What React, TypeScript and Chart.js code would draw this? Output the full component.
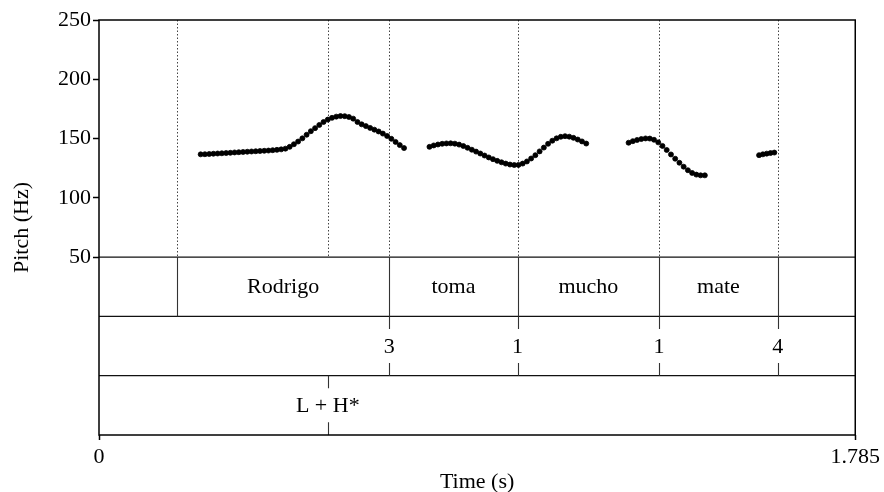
import React, { useEffect, useRef } from 'react';
import { Chart, registerables } from 'chart.js';
Chart.register(...registerables);

const FONT = '"Liberation Serif", "Times New Roman", Times, serif';

// Pitch contour segments (time in s, pitch in Hz)
const seg1Times = [0.24, 0.25, 0.26, 0.27, 0.28, 0.29, 0.30, 0.31, 0.32, 0.33, 0.34, 0.35, 0.36, 0.37, 0.38, 0.39, 0.40, 0.41, 0.42, 0.43, 0.44, 0.45, 0.46, 0.47, 0.48, 0.49, 0.50, 0.51, 0.52, 0.53, 0.54, 0.55, 0.56, 0.57, 0.58, 0.59, 0.60, 0.61, 0.62, 0.63, 0.64, 0.65, 0.66, 0.67, 0.68, 0.69, 0.70, 0.71, 0.72];
const seg1Pitch = [136.7, 136.8, 137.0, 137.2, 137.4, 137.6, 137.8, 138.0, 138.3, 138.5, 138.7, 138.9, 139.1, 139.3, 139.5, 139.7, 139.9, 140.2, 140.5, 140.9, 141.5, 143.0, 145.2, 147.5, 150.2, 153.2, 156.2, 158.8, 161.5, 164.0, 166.0, 167.5, 168.5, 169.0, 168.9, 168.2, 166.8, 164.0, 162.0, 160.5, 159.0, 157.5, 156.0, 154.2, 152.2, 149.8, 147.2, 144.5, 142.0];

const seg2Times = [0.78, 0.79, 0.80, 0.81, 0.82, 0.83, 0.84, 0.85, 0.86, 0.87, 0.88, 0.89, 0.90, 0.91, 0.92, 0.93, 0.94, 0.95, 0.96, 0.97, 0.98, 0.99, 1.00, 1.01, 1.02, 1.03, 1.04, 1.05, 1.06, 1.07, 1.08, 1.09, 1.10, 1.11, 1.12, 1.13, 1.14, 1.15];
const seg2Pitch = [143.0, 144.2, 145.0, 145.6, 145.9, 146.0, 145.7, 144.9, 143.7, 142.2, 140.6, 139.0, 137.4, 135.7, 134.1, 132.6, 131.2, 130.0, 128.9, 128.1, 127.7, 127.8, 128.9, 130.7, 133.2, 136.0, 139.2, 142.4, 145.6, 148.2, 150.2, 151.5, 152.0, 151.6, 150.6, 149.2, 147.6, 145.8];

const seg3Times = [1.25, 1.26, 1.27, 1.28, 1.29, 1.30, 1.31, 1.32, 1.33, 1.34, 1.35, 1.36, 1.37, 1.38, 1.39, 1.40, 1.41, 1.42, 1.43];
const seg3Pitch = [146.5, 147.8, 148.8, 149.6, 150.1, 150.0, 149.0, 146.8, 143.8, 140.4, 136.6, 133.0, 129.6, 126.3, 123.3, 121.0, 119.6, 119.0, 119.0];

const seg4Times = [1.558, 1.567, 1.576, 1.585, 1.594];
const seg4Pitch = [136.0, 136.7, 137.3, 137.8, 138.2];

// Axis ticks
const yTickValues = [50, 100, 150, 200, 250];
const xTickValues = [0, 1.785];
const xTickLabels = ['0', '1.785'];

// TextGrid
const pitchMarkTimes = [0.184, 0.540, 0.685, 0.988, 1.322, 1.602];
const wordBounds = [0.184, 0.685, 0.988, 1.322, 1.602];
const words = ['Rodrigo', 'toma', 'mucho', 'mate'];
const breakTimes = [0.685, 0.988, 1.322, 1.602];
const breakLabels = ['3', '1', '1', '4'];
const toneTimes = [0.540];
const toneLabels = ['L + H*'];

const pts = (ts: number[], ps: number[]) => ts.map((t, i) => ({ x: t, y: ps[i] }));

const tierPlugin = {
  id: 'tiers',
  beforeDatasetsDraw(chart: any) {
    const { ctx, scales } = chart;
    const x = scales.x, y = scales.y;
    const yTop = y.getPixelForValue(250);
    const y50 = y.getPixelForValue(50);
    const y0 = y.getPixelForValue(0);
    const yM50 = y.getPixelForValue(-50);
    const yBot = y.getPixelForValue(-100);
    const left = chart.chartArea.left, right = chart.chartArea.right;
    ctx.save();
    ctx.strokeStyle = '#444';
    ctx.lineWidth = 1;
    ctx.setLineDash([1.5, 2]);
    pitchMarkTimes.forEach((t) => {
      const px = Math.round(x.getPixelForValue(t)) + 0.5;
      ctx.beginPath();
      ctx.moveTo(px, yTop);
      ctx.lineTo(px, y50);
      ctx.stroke();
    });
    ctx.setLineDash([]);
    ctx.strokeStyle = '#111';
    ctx.lineWidth = 1.3;
    [y50, y0, yM50].forEach((yy) => {
      ctx.beginPath();
      ctx.moveTo(left, yy);
      ctx.lineTo(right, yy);
      ctx.stroke();
    });
    ctx.strokeStyle = '#333';
    ctx.lineWidth = 1.1;
    wordBounds.forEach((t) => {
      const px = Math.round(x.getPixelForValue(t)) + 0.5;
      ctx.beginPath();
      ctx.moveTo(px, y50);
      ctx.lineTo(px, y0);
      ctx.stroke();
    });
    ctx.fillStyle = '#000';
    ctx.font = '22px ' + FONT;
    ctx.textAlign = 'center';
    ctx.textBaseline = 'alphabetic';
    const c1 = (y50 + y0) / 2;
    words.forEach((w, i) => {
      const mid = (x.getPixelForValue(wordBounds[i]) + x.getPixelForValue(wordBounds[i + 1])) / 2;
      ctx.fillText(w, mid, c1 + 6.5);
    });
    const pointTier = (times: number[], labels: string[], top: number, bot: number) => {
      const c = (top + bot) / 2;
      times.forEach((t, i) => {
        const px = Math.round(x.getPixelForValue(t)) + 0.5;
        ctx.beginPath();
        ctx.moveTo(px, top);
        ctx.lineTo(px, c - 17);
        ctx.moveTo(px, c + 17);
        ctx.lineTo(px, bot);
        ctx.stroke();
        ctx.fillText(labels[i], x.getPixelForValue(t), c + 7);
      });
    };
    pointTier(breakTimes, breakLabels, y0, yM50);
    pointTier(toneTimes, toneLabels, yM50, yBot);
    ctx.restore();
  },
  afterDraw(chart: any) {
    const { ctx, chartArea: a } = chart;
    ctx.save();
    ctx.strokeStyle = '#000';
    ctx.lineWidth = 1.5;
    ctx.strokeRect(a.left, a.top, a.right - a.left, a.bottom - a.top);
    ctx.restore();
  },
};

export default function App() {
  const ref = useRef<HTMLCanvasElement | null>(null);
  useEffect(() => {
    document.body.style.margin = '0';
    const canvas = ref.current;
    if (!canvas) return;
    const dsBase = {
      showLine: false,
      pointRadius: 2.5,
      pointBorderWidth: 0.8,
      pointBackgroundColor: '#000',
      pointBorderColor: '#000',
    };
    const chart = new Chart(canvas, {
      type: 'scatter',
      data: {
        datasets: [
          { ...dsBase, data: pts(seg1Times, seg1Pitch) },
          { ...dsBase, data: pts(seg2Times, seg2Pitch) },
          { ...dsBase, data: pts(seg3Times, seg3Pitch) },
          { ...dsBase, data: pts(seg4Times, seg4Pitch) },
        ],
      },
      options: {
        animation: false,
        responsive: false,
        layout: { padding: { top: 20, right: 27, left: 0, bottom: 0 } },
        plugins: { legend: { display: false }, tooltip: { enabled: false } },
        scales: {
          x: {
            type: 'linear',
            min: 0,
            max: 1.785,
            afterFit: (s: any) => { s.height = 57; },
            afterBuildTicks: (s: any) => { s.ticks = xTickValues.map((v) => ({ value: v })); },
            ticks: {
              callback: (_v: any, i: number) => xTickLabels[i],
              font: { family: FONT, size: 22 },
              color: '#000',
              padding: 4,
              maxRotation: 0,
              autoSkip: false,
            },
            grid: { drawOnChartArea: false, tickLength: 5, tickColor: '#000', tickWidth: 1.5 },
            border: { display: false },
            title: {
              display: true,
              text: 'Time (s)',
              color: '#000',
              font: { family: FONT, size: 22, lineHeight: 0.85 },
              padding: 0,
            },
          },
          y: {
            type: 'linear',
            min: -100,
            max: 250,
            afterFit: (s: any) => { s.width = 99; },
            afterBuildTicks: (s: any) => { s.ticks = yTickValues.map((v) => ({ value: v })); },
            ticks: {
              callback: (v: any) => String(v),
              font: { family: FONT, size: 22 },
              color: '#000',
              padding: 2,
              autoSkip: false,
            },
            grid: { drawOnChartArea: false, tickLength: 6, tickColor: '#000', tickWidth: 1.5 },
            border: { display: false },
            title: {
              display: true,
              text: 'Pitch (Hz)',
              color: '#000',
              font: { family: FONT, size: 22, lineHeight: 0.85 },
              padding: { top: 13, bottom: 0 },
            },
          },
        },
      },
      plugins: [tierPlugin],
    } as any);
    return () => chart.destroy();
  }, []);
  return (
    <div style={{ width: 884, height: 492 }}>
      <canvas ref={ref} width={884} height={492} style={{ display: 'block' }} />
    </div>
  );
}
